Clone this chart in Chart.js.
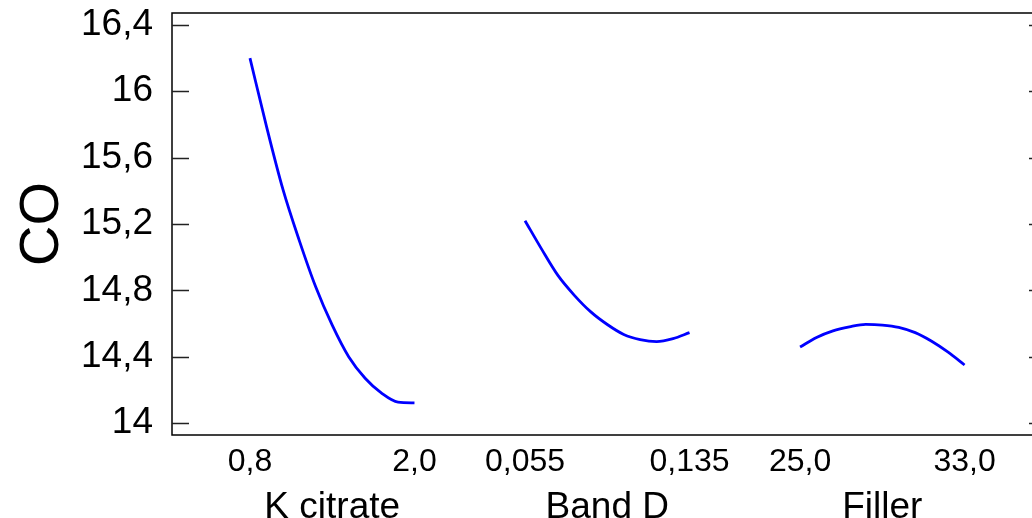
<!DOCTYPE html>
<html>
<head>
<meta charset="utf-8">
<script src="https://cdn.jsdelivr.net/npm/chart.js@4.4.0/dist/chart.umd.min.js"></script>
<style>
  html, body { margin: 0; padding: 0; background: #fff; overflow: hidden; }
  #wrap { width: 1032px; height: 518px; overflow: hidden; }
  canvas { display: block; }
</style>
</head>
<body>
<div id="wrap"><canvas id="chart" width="1046" height="518"></canvas></div>
<script>
  // factor names and levels
  var factorNames = ['K citrate', 'Band D', 'Filler'];
  var kCitrate = [0.8, 0.92, 1.04, 1.16, 1.28, 1.40, 1.52, 1.64, 1.76, 1.88, 2.0];
  var kCitrateCO = [16.20, 15.79, 15.41, 15.10, 14.82, 14.59, 14.40, 14.27, 14.18, 14.126, 14.122];
  var bandD = [0.055, 0.063, 0.071, 0.079, 0.087, 0.095, 0.103, 0.111, 0.119, 0.127, 0.135];
  var bandDCO = [15.22, 15.05, 14.89, 14.77, 14.67, 14.594, 14.534, 14.503, 14.491, 14.509, 14.545];
  var filler = [25.0, 25.8, 26.6, 27.4, 28.2, 29.0, 29.8, 30.6, 31.4, 32.2, 33.0];
  var fillerCO = [14.458, 14.516, 14.556, 14.580, 14.595, 14.591, 14.577, 14.545, 14.493, 14.427, 14.350];

  var yTicks = [14, 14.4, 14.8, 15.2, 15.6, 16, 16.4];
  var xTickLabels = ['0,8', '2,0', '0,055', '0,135', '25,0', '33,0'];

  // each factor gets its own panel on one shared x scale (panel width = 1)
  var panelGap = 1.672;
  var panels = [
    { lo: 0.8, hi: 2.0, x: kCitrate, y: kCitrateCO },
    { lo: 0.055, hi: 0.135, x: bandD, y: bandDCO },
    { lo: 25.0, hi: 33.0, x: filler, y: fillerCO }
  ];

  var font = 'Liberation Sans, Arial, sans-serif';

  var datasets = panels.map(function(p, i) {
    return {
      data: p.x.map(function(v, j) {
        return { x: i * panelGap + (v - p.lo) / (p.hi - p.lo), y: p.y[j] };
      }),
      borderColor: '#0000ff',
      borderWidth: 2.8,
      pointRadius: 0,
      fill: false,
      cubicInterpolationMode: 'monotone'
    };
  });

  var xTickPos = [];
  var xTitlePos = [];
  panels.forEach(function(p, i) {
    xTickPos.push(i * panelGap, i * panelGap + 1);
    xTitlePos.push(i * panelGap + 0.5);
  });

  // frame plus short inward ticks on both sides
  var framePlugin = {
    id: 'frame',
    afterDraw: function(chart) {
      var ctx = chart.ctx, a = chart.chartArea, ys = chart.scales.y;
      ctx.save();
      ctx.strokeStyle = '#000';
      ctx.lineWidth = 1.5;
      ctx.strokeRect(a.left, a.top, a.right - a.left, a.bottom - a.top);
      ctx.strokeStyle = '#222';
      ctx.lineWidth = 1.3;
      yTicks.forEach(function(v) {
        var py = Math.round(ys.getPixelForValue(v)) + 0.5;
        ctx.beginPath();
        ctx.moveTo(a.left, py); ctx.lineTo(a.left + 17, py);
        ctx.moveTo(a.right - 17, py); ctx.lineTo(a.right, py);
        ctx.stroke();
      });
      ctx.restore();
    }
  };

  var ctx = document.getElementById('chart').getContext('2d');
  var chart = new Chart(ctx, {
    type: 'line',
    data: { datasets: datasets },
    options: {
      responsive: false,
      animation: false,
      layout: { padding: { top: 13, left: 0, right: 0, bottom: 0 } },
      plugins: { legend: { display: false }, tooltip: { enabled: false } },
      scales: {
        x: {
          type: 'linear',
          position: 'bottom',
          min: -0.474,
          max: 4.839,
          grid: { display: false },
          border: { display: false },
          afterBuildTicks: function(s) { s.ticks = xTickPos.map(function(v) { return { value: v }; }); },
          afterFit: function(s) { s.height = 42; s.paddingLeft = 0; s.paddingRight = 0; },
          ticks: {
            autoSkip: false,
            maxRotation: 0,
            padding: 0,
            color: '#000',
            font: { family: font, size: 32 },
            callback: function(v, i) { return xTickLabels[i]; }
          }
        },
        x2: {
          type: 'linear',
          position: 'bottom',
          min: -0.474,
          max: 4.839,
          grid: { display: false },
          border: { display: false },
          afterBuildTicks: function(s) { s.ticks = xTitlePos.map(function(v) { return { value: v }; }); },
          afterFit: function(s) { s.height = 41; s.paddingLeft = 0; s.paddingRight = 0; },
          ticks: {
            autoSkip: false,
            maxRotation: 0,
            padding: 1,
            color: '#000',
            font: { family: font, size: 37 },
            callback: function(v, i) { return factorNames[i]; }
          }
        },
        y: {
          min: 13.928,
          max: 16.472,
          grid: { display: false },
          border: { display: false },
          afterBuildTicks: function(s) { s.ticks = yTicks.map(function(v) { return { value: v }; }); },
          afterFit: function(s) { s.width = 172; s.paddingTop = 0; s.paddingBottom = 0; },
          ticks: {
            padding: 11,
            color: '#000',
            font: { family: font, size: 37 },
            callback: function(v) { return String(v).replace('.', ','); }
          },
          title: {
            display: true,
            text: 'CO',
            color: '#000',
            font: { family: font, size: 56 },
            padding: { top: 9, bottom: 0 }
          }
        }
      }
    },
    plugins: [framePlugin]
  });
</script>
</body>
</html>
